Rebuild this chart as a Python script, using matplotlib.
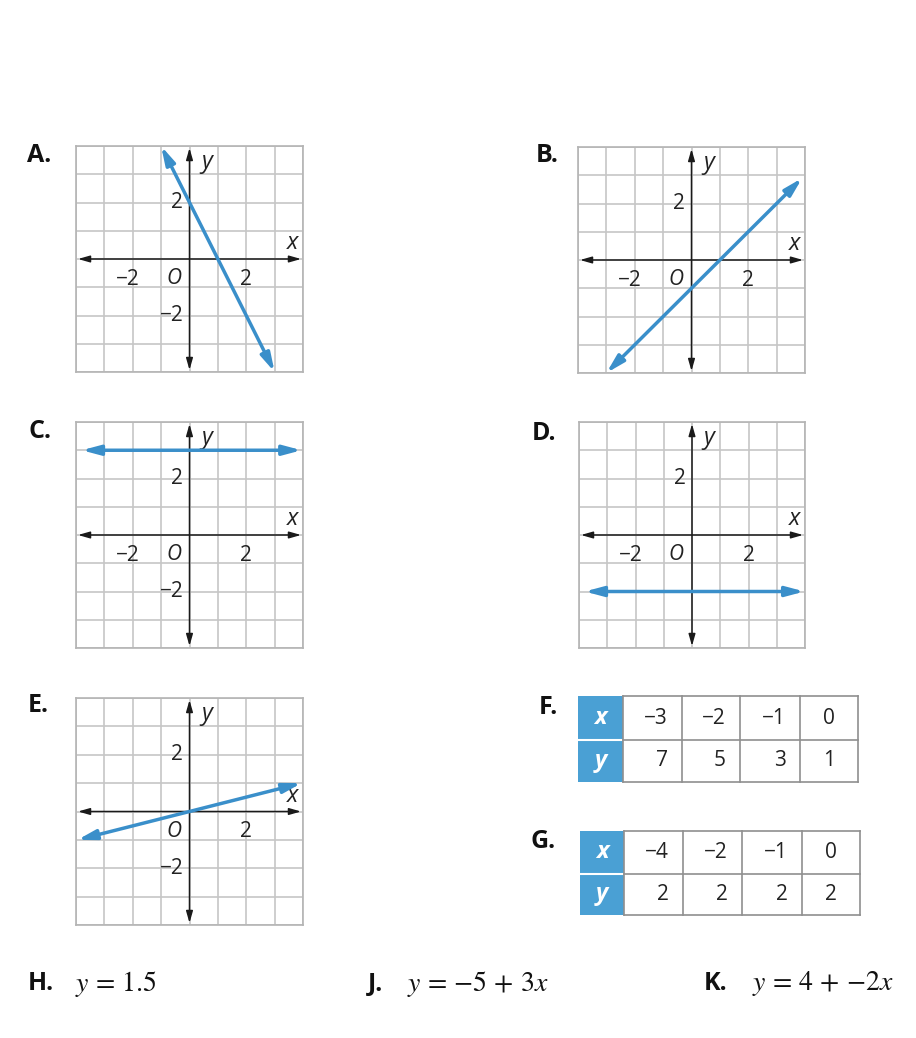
import matplotlib
matplotlib.use('Agg')
import matplotlib.pyplot as plt
from matplotlib.patches import Rectangle

# ---------------- data ----------------
graph_letters = ['A.', 'B.', 'C.', 'D.', 'E.']
line_A_x = [-1.0, 3.0]
line_A_y = [4.0, -4.0]
line_B_x = [-3.0, 3.9]
line_B_y = [-4.0, 2.9]
line_C_x = [-3.8, 3.95]
line_C_y = [3.0, 3.0]
line_D_x = [-3.8, 3.98]
line_D_y = [-2.0, -2.0]
line_E_x = [-3.95, 3.95]
line_E_y = [-1.0, 1.0]

tick_label_values = [-2, 2]
# which labels each graph shows: (x -2, x 2, y 2, y -2)
graph_label_flags = [(1, 1, 1, 1), (1, 1, 1, 0), (1, 1, 1, 1), (1, 1, 1, 0), (0, 1, 1, 1)]

table_letters = ['F.', 'G.']
table_F_x = [-3, -2, -1, 0]
table_F_y = [7, 5, 3, 1]
table_G_x = [-4, -2, -1, 0]
table_G_y = [2, 2, 2, 2]

eq_letters = ['H.', 'J.', 'K.']
eq_texts = [r'$y\,=\,1.5$', r'$y\,=\,{-5}\,+\,3x$', r'$y\,=\,4\,+\,{-2x}$']

# ---------------- style ----------------
W, H = 916, 1038
BLUE = '#3a8fca'
CELL = '#4aa0d4'
GRID = '#c6c6c6'
SANS = ['Open Sans', 'DejaVu Sans']
plt.rcParams['mathtext.fontset'] = 'stix'

fig = plt.figure(figsize=(W / 100, H / 100), dpi=100)
fig.patch.set_facecolor('white')


def add_px_axes(l, t, r, b):
    return fig.add_axes([l / W, 1 - b / H, (r - l) / W, (b - t) / H])


def mstr(v):
    return str(v).replace('-', '\u2212')


def draw_graph(box, lx, ly, flags):
    ax = add_px_axes(*box)
    ax.set_xlim(-4, 4)
    ax.set_ylim(-4, 4)
    ax.set_xticks(range(-4, 5))
    ax.set_yticks(range(-4, 5))
    ax.tick_params(length=0, labelbottom=False, labelleft=False)
    ax.grid(True, color=GRID, lw=1.2)
    ax.set_axisbelow(True)
    for s in ax.spines.values():
        s.set_color('#b4b4b4')
        s.set_linewidth(1.2)
    axp = dict(arrowstyle='<|-|>,head_length=0.7,head_width=0.2', color='#1a1a1a',
               lw=1.1, shrinkA=0, shrinkB=0, mutation_scale=10)
    ax.annotate('', xy=(3.93, 0), xytext=(-3.93, 0), arrowprops=axp, annotation_clip=False)
    ax.annotate('', xy=(0, 3.93), xytext=(0, -3.93), arrowprops=axp, annotation_clip=False)
    fs = 15
    kw = dict(fontsize=fs, family=SANS, color='#222', va='center')
    xneg, xpos, ypos, yneg = flags
    if xneg:
        ax.text(tick_label_values[0] + 0.25, -0.72, mstr(tick_label_values[0]), ha='right', **kw)
    if xpos:
        ax.text(tick_label_values[1], -0.72, mstr(tick_label_values[1]), ha='center', **kw)
    if ypos:
        ax.text(-0.22, tick_label_values[1], mstr(tick_label_values[1]), ha='right', **kw)
    if yneg:
        ax.text(-0.22, tick_label_values[0], mstr(tick_label_values[0]), ha='right', **kw)
    ax.text(-0.55, -0.7, 'O', ha='center', va='center', fontsize=fs, style='italic', family=SANS, color='#222')
    ax.text(3.62, 0.55, 'x', ha='center', va='center', fontsize=fs + 2, style='italic', family=SANS, color='#222')
    ax.text(0.6, 3.45, 'y', ha='center', va='center', fontsize=fs + 2, style='italic', family=SANS, color='#222')
    # the blue line
    lp = dict(arrowstyle='<|-|>,head_length=0.6,head_width=0.16', color=BLUE, lw=2.5,
              shrinkA=0, shrinkB=0, mutation_scale=18)
    ax.annotate('', xy=(lx[1], ly[1]), xytext=(lx[0], ly[0]), arrowprops=lp, annotation_clip=False)
    return ax


boxes = [(76, 146, 303, 372), (578, 147, 805, 373), (76, 422, 303, 648),
         (579, 422, 805, 648), (76, 698, 303, 925)]
lines = [(line_A_x, line_A_y), (line_B_x, line_B_y), (line_C_x, line_C_y),
         (line_D_x, line_D_y), (line_E_x, line_E_y)]
for box, (lx, ly), flags in zip(boxes, lines, graph_label_flags):
    draw_graph(box, lx, ly, flags)

# overlay axes in pixel coordinates
ov = fig.add_axes([0, 0, 1, 1])
ov.set_xlim(0, W)
ov.set_ylim(H, 0)
ov.axis('off')

LFS = 18
letter_pos = [(27, 155), (536, 156), (28, 432), (532, 433), (28, 706)]
for lab, (x, y) in zip(graph_letters, letter_pos):
    ov.text(x, y, lab, ha='left', va='center', fontsize=LFS, fontweight='bold', family=SANS, color='#111')


def draw_table(cols, rows, xv, yv):
    top, mid, bot = rows
    ov.add_patch(Rectangle((cols[0], top), cols[1] - cols[0], bot - top, facecolor=CELL, edgecolor='none'))
    ov.plot([cols[0], cols[1]], [mid, mid], color='white', lw=1.5)
    for c in cols[1:]:
        ov.plot([c, c], [top, bot], color='#8f8f8f', lw=1.2)
    for yy in (top, mid, bot):
        ov.plot([cols[1], cols[-1]], [yy, yy], color='#8f8f8f', lw=1.2)
    rc = [(top + mid) / 2, (mid + bot) / 2]
    hx = (cols[0] + cols[1]) / 2
    for row, lab in enumerate(['x', 'y']):
        ov.text(hx, rc[row], lab, ha='center', va='center', fontsize=17, color='white',
                fontweight='bold', style='italic', family=SANS)
    for j in range(4):
        l, r = cols[j + 1], cols[j + 2]
        for row, vals in enumerate([xv, yv]):
            if j < 3:
                ov.text(r - 14, rc[row], mstr(vals[j]), ha='right', va='center', fontsize=15,
                        family=SANS, color='#222')
            else:
                ov.text((l + r) / 2, rc[row], mstr(vals[j]), ha='center', va='center', fontsize=15,
                        family=SANS, color='#222')


draw_table([578, 623, 682, 740, 800, 858], (696, 740, 782), table_F_x, table_F_y)
draw_table([580, 624, 683, 742, 802, 860], (831, 874, 915), table_G_x, table_G_y)
for lab, (x, y) in zip(table_letters, [(539, 707), (531, 842)]):
    ov.text(x, y, lab, ha='left', va='center', fontsize=LFS, fontweight='bold', family=SANS, color='#111')

eq_letter_pos = [(28, 984), (368, 984), (704, 984)]
eq_text_x = [75, 407, 752]
for lab, (x, y), tx, eq in zip(eq_letters, eq_letter_pos, eq_text_x, eq_texts):
    ov.text(x, y, lab, ha='left', va='center', fontsize=LFS, fontweight='bold', family=SANS, color='#111')
    ov.text(tx, y, eq, ha='left', va='center', fontsize=20, color='#111')

fig.savefig('out.png', dpi=100, facecolor='white')
